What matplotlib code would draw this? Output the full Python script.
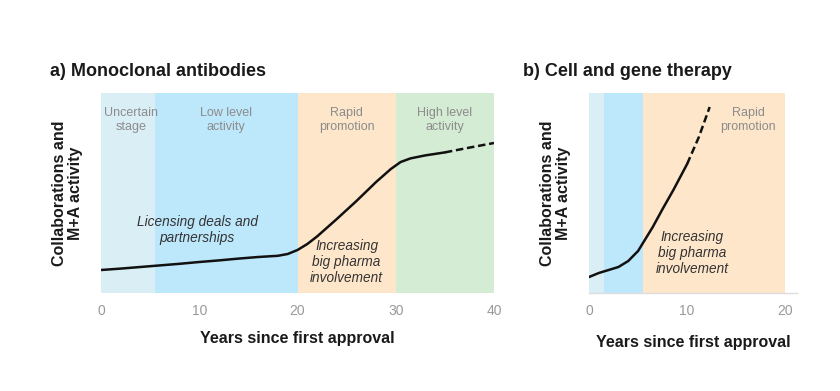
import matplotlib
matplotlib.use("Agg")
import matplotlib.pyplot as plt

plt.rcParams['font.family'] = ['Liberation Sans', 'DejaVu Sans']

# ---- data ----
# Panel a: monoclonal antibodies
a_phase_edges = [0, 5.5, 20, 30, 40]
a_phase_labels = ["Uncertain\nstage", "Low level\nactivity", "Rapid\npromotion", "High level\nactivity"]
a_years = [0, 2, 4, 6, 8, 10, 12, 14, 16, 18, 19, 20, 21, 22, 24, 26, 28, 29.5, 30.5, 31.5, 33, 35]
a_activity = [11.5, 12.2, 13.0, 13.8, 14.6, 15.5, 16.3, 17.2, 18.0, 18.6, 19.5, 21.5, 24.5, 28.3,
              37, 46, 55.5, 62, 65.5, 67.3, 68.8, 70.3]
a_dash_years = [35, 37.5, 40]
a_dash_activity = [70.3, 72.7, 75]
a_ticks = [0, 10, 20, 30, 40]

# Panel b: cell and gene therapy
b_phase_edges = [0, 1.5, 5.5, 20]
b_years = [0, 1, 2, 3, 4, 5, 5.5, 6.5, 7.5, 8.6, 10]
b_activity = [8, 10, 11.5, 13, 16, 21, 25, 33, 42, 51.5, 64.5]
b_dash_years = [10, 11.2, 12.3]
b_dash_activity = [64.5, 78, 93]
b_ticks = [0, 10, 20]

phase_colors = ["#DAEEF5", "#BDE7FB", "#FEE6CA", "#D4ECD3"]

W, H = 840, 391
fig = plt.figure(figsize=(W / 100, H / 100), dpi=100)


def px_axes(x0, x1, y_top, y_bot):
    return fig.add_axes([x0 / W, (H - y_bot) / H, (x1 - x0) / W, (y_bot - y_top) / H])


def style(ax, xlim, ticks, xlabelpad):
    ax.set_xlim(*xlim)
    ax.set_ylim(0, 100)
    ax.set_yticks([])
    ax.set_xticks(ticks)
    ax.tick_params(axis='x', length=0, pad=8, labelsize=10, labelcolor='#999999')
    for s in ['top', 'right', 'left']:
        ax.spines[s].set_visible(False)
    ax.spines['bottom'].set_color('#dddddd')
    ax.spines['bottom'].set_linewidth(1.0)
    ax.set_xlabel("Years since first approval", fontsize=11.5, fontweight='bold',
                  color='#1a1a1a', labelpad=xlabelpad)
    ax.set_ylabel("Collaborations and\nM+A activity", fontsize=11.5, fontweight='bold',
                  color='#1a1a1a', labelpad=13, linespacing=1.1)


# ---- panel a ----
axa = px_axes(101, 494, 93, 293)
for i in range(len(a_phase_edges) - 1):
    axa.axvspan(a_phase_edges[i], a_phase_edges[i + 1], color=phase_colors[i], lw=0)
    axa.text((a_phase_edges[i] + a_phase_edges[i + 1]) / 2 + (0.3 if i == 0 else 0), 86.5,
             a_phase_labels[i], ha='center', va='center', fontsize=9, color='#8c8c8c',
             linespacing=1.2)
axa.plot(a_years, a_activity, color='#111111', lw=1.8, solid_capstyle='round')
axa.plot(a_dash_years, a_dash_activity, color='#111111', lw=1.8, ls=(0, (3, 1.5)))
axa.text(9.8, 31.5, "Licensing deals and\npartnerships", ha='center', va='center',
         fontsize=9.8, style='italic', color='#333333', linespacing=1.15)
axa.text(25, 15.5, "Increasing\nbig pharma\ninvolvement", ha='center', va='center',
         fontsize=9.8, style='italic', color='#333333', linespacing=1.15)
style(axa, (0, 40), a_ticks, 9)
axa.spines['bottom'].set_visible(False)
fig.text(50 / W, 1 - 72 / H, "a) Monoclonal antibodies", fontsize=13, fontweight='bold',
         color='#1a1a1a', va='center', ha='left')

# ---- panel b ----
axb = px_axes(589, 797, 93, 293)
for i in range(len(b_phase_edges) - 1):
    axb.axvspan(b_phase_edges[i], b_phase_edges[i + 1], color=phase_colors[i], lw=0)
axb.text(16.2, 86.5, "Rapid\npromotion", ha='center', va='center', fontsize=9,
         color='#8c8c8c', linespacing=1.2)
axb.plot(b_years, b_activity, color='#111111', lw=1.8, solid_capstyle='round')
axb.plot(b_dash_years, b_dash_activity, color='#111111', lw=1.8, ls=(0, (3, 1.5)))
axb.text(10.5, 20, "Increasing\nbig pharma\ninvolvement", ha='center', va='center',
         fontsize=9.8, style='italic', color='#333333', linespacing=1.15)
style(axb, (0, 21.2), b_ticks, 12)
fig.text(523 / W, 1 - 72 / H, "b) Cell and gene therapy", fontsize=13, fontweight='bold',
         color='#1a1a1a', va='center', ha='left')

fig.savefig("out.png", dpi=100, facecolor='white')
